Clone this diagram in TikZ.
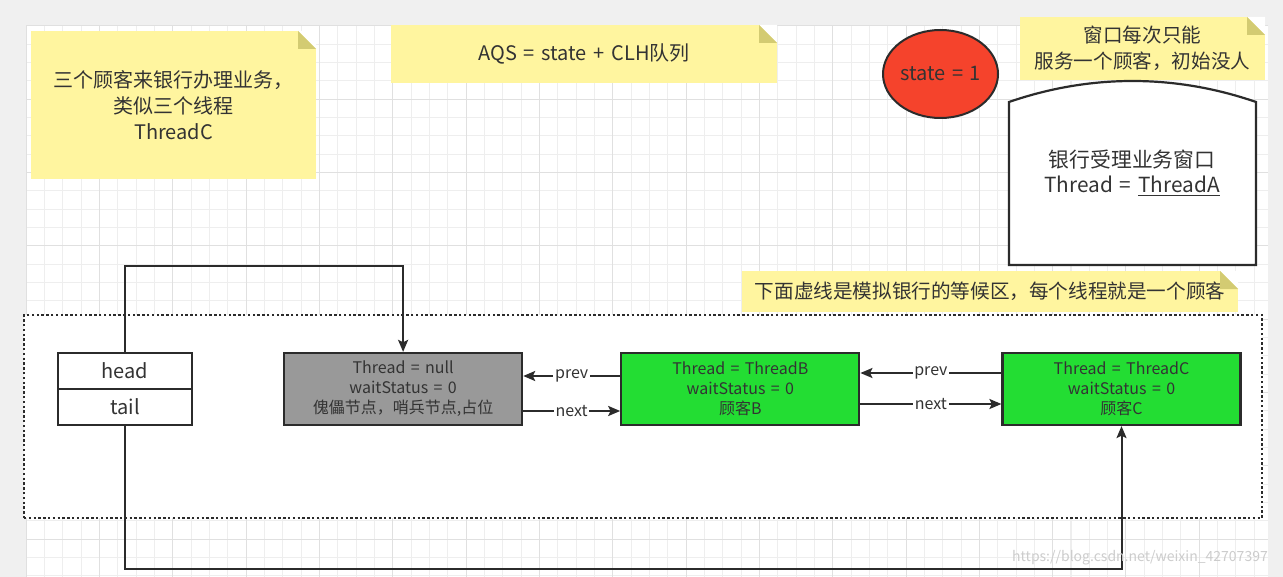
\documentclass[tikz,border=0pt]{standalone}
\usepackage{fontspec}
\setmainfont[WordSpace=1.5]{Noto Sans CJK SC}
\usetikzlibrary{shapes.geometric, arrows.meta, positioning, calc}

\definecolor{bgcol}{HTML}{F0F0F0}
\definecolor{gridminor}{HTML}{EEEEEE}
\definecolor{gridmajor}{HTML}{E0E0E0}
\definecolor{notey}{HTML}{FFF59F}
\definecolor{foldc}{HTML}{D3CB72}
\definecolor{nodegreen}{HTML}{23DD33}
\definecolor{nodegray}{HTML}{999999}
\definecolor{statered}{HTML}{F5432C}
\definecolor{txt}{HTML}{333333}
\definecolor{edge}{HTML}{2B2B2B}

\begin{document}
\begin{tikzpicture}[
    x=0.5pt, y=-0.5pt,
    note/.style={rectangle, fill=notey, outer sep=0pt, inner sep=0pt, align=center, text=txt, font=\fontsize{10}{13}\selectfont},
    qnode/.style={rectangle, draw=edge, line width=1.1pt, minimum width=119pt, minimum height=36pt, inner sep=0pt, align=center, text=txt, font=\fontsize{8}{10}\selectfont},
    field/.style={rectangle, draw=edge, line width=1.1pt, fill=white, outer sep=0pt, minimum width=67pt, minimum height=18pt, inner sep=0pt, text=txt, font=\fontsize{10}{10}\selectfont},
    lbl/.style={fill=white, inner sep=0.8pt, text=txt, font=\fontsize{8}{8}\selectfont},
    arr/.style={draw=edge, line width=1pt, -{Stealth[length=6pt, width=5pt, inset=1.2pt]}}
]
\useasboundingbox (0,0) rectangle (1283,577);

% Canvas and grid
\fill[bgcol] (0,0) rectangle (1283,577);
\fill[white] (26,26) rectangle (1268,577);
\foreach \i in {0,...,67} \draw[gridminor, line width=0.5pt] ({26+18.333*\i},26) -- ({26+18.333*\i},577);
\foreach \j in {0,...,30} \draw[gridminor, line width=0.5pt] (26,{26+18.333*\j}) -- (1268,{26+18.333*\j});
\foreach \i in {0,4,...,64} \draw[gridmajor, line width=0.5pt] ({26+18.333*\i},26) -- ({26+18.333*\i},577);
\foreach \j in {0,4,...,28} \draw[gridmajor, line width=0.5pt] (26,{26+18.333*\j}) -- (1268,{26+18.333*\j});

% Waiting area
\node[draw=edge, fill=white, line width=1.2pt, dash pattern=on 1.2pt off 1.2pt, minimum width=619pt, minimum height=101.5pt, inner sep=0pt] (queue) at (643,416.5) {};

% Notes
\node[note, minimum width=142.5pt, minimum height=74pt] (nCust) at (173.5,105) {三个顾客来银行办理业务，\\类似三个线程\\ThreadC};
\node[note, minimum width=193pt, minimum height=29pt] (nAqs) at (584,54) {AQS = state + CLH队列};
\node[note, minimum width=122.5pt, minimum height=31.5pt, font=\fontsize{9.8}{13}\selectfont] (nWin) at (1142.5,48.5) {窗口每次只能\\服务一个顾客，初始没人};
\node[note, minimum width=248pt, minimum height=20.5pt, font=\fontsize{9.8}{13}\selectfont] (nWait) at (990,291.5) {下面虚线是模拟银行的等候区，每个线程就是一个顾客};
\foreach \n in {nCust, nAqs, nWin, nWait} {
    \fill[white] ($(\n.north east)+(-9pt,0)$) -- (\n.north east) -- ++(0,-9pt) -- cycle;
    \fill[foldc] ($(\n.north east)+(-9pt,0)$) -- ++(0,-9pt) -- ++(9pt,0) -- cycle;
}

% State
\node[ellipse, draw=edge, line width=1pt, fill=statered, inner sep=0pt, minimum width=57.5pt, minimum height=44pt, text=txt, font=\fontsize{10}{10}\selectfont] (state) at (940.5,74) {state = 1};

% Bank window
\draw[draw=edge, line width=1.1pt, fill=white] (1009,265) -- (1009,102) .. controls (1090,74) and (1175,74) .. (1256,102) -- (1256,265) -- cycle;
\node[align=center, text=txt, font=\fontsize{10.4}{12.5}\selectfont] (window) at (1132,173) {银行受理业务窗口\\Thread = \underline{ThreadA}};

% Head / tail
\node[field] (head) at (125,371) {head};
\node[field, below=0pt of head] (tail) {tail};

% Queue nodes
\node[qnode, fill=nodegray, right=45.5pt of head.south east] (sentinel) {Thread = null\\waitStatus = 0\\傀儡节点，哨兵节点,占位};
\node[qnode, fill=nodegreen, right=48.5pt of sentinel] (custB) {Thread = ThreadB\\waitStatus = 0\\顾客B};
\node[qnode, fill=nodegreen, right=70.5pt of custB] (custC) {Thread = ThreadC\\waitStatus = 0\\顾客C};

% Arrows
\draw[arr] (head.north) -- ++(0,-87) -| (sentinel.north);
\draw[arr] (tail.south) -- ++(0,144) -| (custC.south);

\draw[arr] ([yshift=6.5pt]custB.west) -- node[lbl] {prev} ([yshift=6.5pt]sentinel.east);
\draw[arr] ([yshift=-11pt]sentinel.east) -- node[lbl] {next} ([yshift=-11pt]custB.west);
\draw[arr] ([yshift=8pt]custC.west) -- node[lbl] {prev} ([yshift=8pt]custB.east);
\draw[arr] ([yshift=-7.5pt]custB.east) -- node[lbl] {next} ([yshift=-7.5pt]custC.west);

% Watermark
\node[text=gray!40, font=\fontsize{7}{7}\selectfont] (wmark) at (1140,558) {https://blog.csdn.net/weixin\_42707397};

\end{tikzpicture}
\end{document}
